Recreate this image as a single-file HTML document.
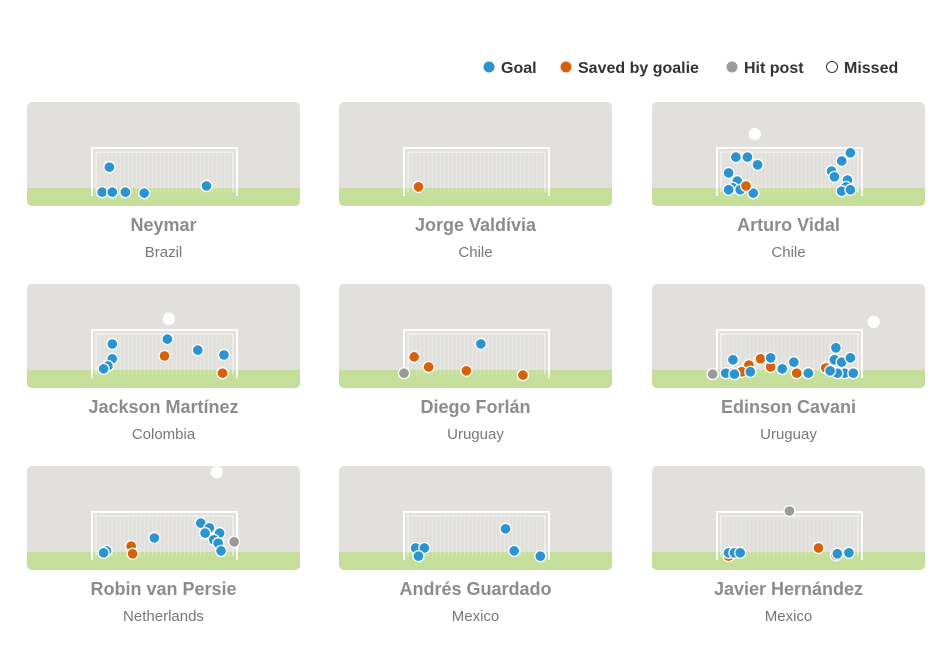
<!DOCTYPE html>
<html><head><meta charset="utf-8"><style>
body{margin:0;background:#fff;}
svg{display:block;font-family:"Liberation Sans",sans-serif;}
</style></head><body>
<svg id="c" width="950" height="672"></svg>
<script>
const players=["Neymar","Jorge Valdívia","Arturo Vidal","Jackson Martínez","Diego Forlán","Edinson Cavani","Robin van Persie","Andrés Guardado","Javier Hernández"];
const countries=["Brazil","Chile","Chile","Colombia","Uruguay","Uruguay","Netherlands","Mexico","Mexico"];
const outcomes=["goal","saved","post","missed"];
const outcomeLabels=["Goal","Saved by goalie","Hit post","Missed"];
const colors={goal:"#2b93cf",saved:"#d5620b",post:"#9a9a9a",missed:"#ffffff"};
// shots: [outcome, x fraction of goal width, y in goal heights above ground]
const shots0=[["goal",.12,.6],["goal",.07,.08],["goal",.14,.08],["goal",.23,.08],["goal",.36,.06],["goal",.79,.21]];
const shots1=[["saved",.10,.19]];
const shots2=[["missed",.26,1.29],["goal",.13,.81],["goal",.21,.81],["goal",.28,.65],["goal",.08,.48],["goal",.14,.31],["goal",.11,.17],["goal",.08,.13],["goal",.16,.13],["goal",.25,.06],["saved",.20,.21],["goal",.92,.90],["goal",.86,.73],["goal",.79,.52],["goal",.81,.40],["goal",.90,.33],["goal",.89,.19],["goal",.86,.10],["goal",.92,.13]];
const shots3=[["missed",.53,1.23],["goal",.14,.71],["goal",.52,.81],["goal",.14,.40],["goal",.11,.25],["goal",.08,.19],["goal",.73,.58],["goal",.91,.48],["saved",.50,.46],["saved",.90,.10]];
const shots4=[["post",0,.10],["saved",.07,.44],["saved",.17,.23],["saved",.43,.15],["saved",.82,.06],["goal",.53,.71]];
const shots5=[["missed",1.08,1.17],["post",-.03,.08],["saved",.22,.27],["saved",.30,.40],["saved",.37,.23],["saved",.55,.10],["saved",.75,.21],["saved",.17,.13],["goal",.11,.38],["goal",.37,.42],["goal",.53,.33],["goal",.82,.63],["goal",.81,.38],["goal",.86,.33],["goal",.92,.42],["goal",.10,.10],["goal",.06,.10],["goal",.12,.08],["goal",.23,.13],["goal",.45,.19],["goal",.63,.10],["goal",.88,.10],["goal",.94,.10],["goal",.83,.10],["goal",.78,.15]];
const shots6=[["missed",.86,1.83],["saved",.27,.29],["saved",.28,.13],["post",.98,.38],["goal",.10,.19],["goal",.08,.15],["goal",.43,.46],["goal",.75,.77],["goal",.81,.67],["goal",.88,.56],["goal",.78,.56],["goal",.84,.42],["goal",.87,.35],["goal",.89,.19]];
const shots7=[["goal",.08,.25],["goal",.14,.25],["goal",.10,.08],["goal",.70,.65],["goal",.76,.19],["goal",.94,.08]];
const shots8=[["post",.50,1.02],["saved",.70,.25],["saved",.08,.08],["saved",.82,.10],["goal",.08,.15],["goal",.12,.15],["goal",.16,.15],["goal",.83,.13],["goal",.91,.15]];
const allShots=[shots0,shots1,shots2,shots3,shots4,shots5,shots6,shots7,shots8];

const NS="http://www.w3.org/2000/svg";
const svg=document.getElementById('c');
function mk(tag,attrs,parent){const e=document.createElementNS(NS,tag);for(const k in attrs)e.setAttribute(k,attrs[k]);(parent||svg).appendChild(e);return e;}

const legX=[489,566,732,832];
outcomes.forEach((o,i)=>{
  const g=mk('g',{});
  
  
  mk('circle',{cx:legX[i],cy:67,r:5.5,fill:colors[o],stroke:o==='missed'?'#333':'none','stroke-width':1},g);
  const t=mk('text',{x:legX[i]+12,y:73,'font-size':16,'font-weight':'bold',fill:'#333'},g);
  t.textContent=outcomeLabels[i];
});

const colX=[27,339,652], rowY=[102,284,466];
const PW=273,PH=104,GL=65,GW=145,GH=48,GROUND=94,GRASS=86;
function sx(px,f){return px+GL+f*GW;}
function sy(py,f){return py+GROUND-f*GH;}
players.forEach((name,i)=>{
  const px=colX[i%3],py=rowY[Math.floor(i/3)];
  const g=mk('g',{});
  
  
  const cp='cp'+i;
  const d=mk('clipPath',{id:cp},g);mk('rect',{x:px,y:py,width:PW,height:PH,rx:5},d);
  mk('rect',{x:px,y:py,width:PW,height:PH,rx:5,fill:'#e1e0dc'},g);
  mk('rect',{x:px,y:py+GRASS,width:PW,height:PH-GRASS,fill:'#c5df9a','clip-path':'url(#'+cp+')'},g);
  for(let k=1;k<36;k++){mk('line',{x1:px+GL+k*GW/36,x2:px+GL+k*GW/36,y1:py+GROUND-GH+3,y2:py+GROUND-3,stroke:'#fff','stroke-opacity':.35,'stroke-width':.6},g);}
  mk('path',{d:`M${px+GL} ${py+GROUND}V${py+GROUND-GH}H${px+GL+GW}V${py+GROUND}`,fill:'none',stroke:'#fff','stroke-width':2},g);
  mk('path',{d:`M${px+GL+4} ${py+GROUND-4}V${py+GROUND-GH+4}H${px+GL+GW-4}V${py+GROUND-4}`,fill:'none',stroke:'#fff','stroke-width':1,'stroke-opacity':.8},g);
  allShots[i].forEach(s=>{
    const c=mk('circle',{cx:sx(px,s[1]),cy:sy(py,s[2]),r:5.5,fill:colors[s[0]],stroke:'#fff','stroke-width':1.3},g);
    
    
  });
  const t=mk('text',{x:px+PW/2,y:py+129,'text-anchor':'middle','font-size':18,'font-weight':'bold',fill:'#8c8c8c'},g);
  t.textContent=name;
  
  
  const c2=mk('text',{x:px+PW/2,y:py+155,'text-anchor':'middle','font-size':15,fill:'#777'},g);
  c2.textContent=countries[i];
  
  
});
</script>
</body></html>
